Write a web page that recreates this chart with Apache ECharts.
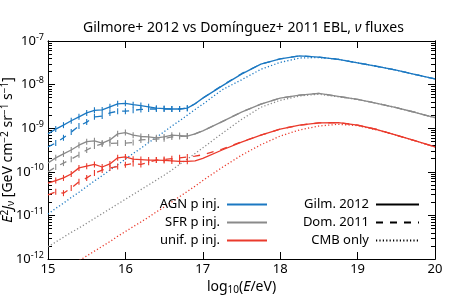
<!DOCTYPE html>
<html>
<head>
<meta charset="utf-8">
<script src="https://cdn.jsdelivr.net/npm/echarts@6/dist/echarts.min.js"></script>
<style>html,body{margin:0;padding:0;background:#fff}#c{width:450px;height:300px}</style>
</head>
<body>
<div id="c"></div>
<script>
// log10(E/eV) sample points
const logE = [15.0,15.1,15.2,15.3,15.4,15.5,15.6,15.7,15.8,15.9,16.0,16.1,16.2,16.3,16.4,16.5,16.6,16.7,16.8,16.9,17.0,
  17.25,17.5,17.75,18.0,18.25,18.5,18.75,19.0,19.25,19.5,19.75,20.0];
// log10 of E^2 J_nu [GeV cm^-2 sr^-1 s^-1]
const agnGilm = [-9.13,-9.02,-8.93,-8.83,-8.74,-8.65,-8.59,-8.58,-8.51,-8.44,-8.43,-8.46,-8.48,-8.51,-8.54,-8.55,-8.56,-8.56,-8.54,-8.44,-8.31,
  -8.03,-7.76,-7.53,-7.41,-7.34,-7.37,-7.42,-7.50,-7.58,-7.67,-7.77,-7.87];
const agnDom = [-9.43,-9.34,-9.22,-9.09,-8.95,-8.86,-8.74,-8.72,-8.65,-8.61,-8.61,-8.59,-8.57,-8.56,-8.56,-8.56,-8.56,-8.56,-8.54,-8.44,-8.31,
  -8.02,-7.75,-7.53,-7.41,-7.34,-7.37,-7.42,-7.50,-7.58,-7.67,-7.77,-7.87];
const agnCmb = [-10.97,-10.84,-10.72,-10.59,-10.47,-10.34,-10.21,-10.09,-9.96,-9.84,-9.71,-9.58,-9.46,-9.33,-9.21,-9.08,-8.95,-8.83,-8.70,-8.57,-8.45,
  -8.12,-7.89,-7.65,-7.49,-7.39,-7.38,-7.42,-7.50,-7.58,-7.67,-7.77,-7.87];
const sfrGilm = [-9.80,-9.68,-9.59,-9.50,-9.39,-9.31,-9.29,-9.34,-9.27,-9.13,-9.10,-9.16,-9.19,-9.20,-9.22,-9.20,-9.16,-9.17,-9.18,-9.13,-9.06,
  -8.85,-8.63,-8.45,-8.31,-8.24,-8.20,-8.27,-8.34,-8.43,-8.53,-8.64,-8.76];
const sfrDom = [-10.00,-9.89,-9.80,-9.71,-9.61,-9.50,-9.41,-9.36,-9.35,-9.34,-9.34,-9.33,-9.27,-9.26,-9.25,-9.24,-9.20,-9.19,-9.18,-9.13,-9.06,
  -8.85,-8.63,-8.45,-8.31,-8.24,-8.20,-8.27,-8.34,-8.43,-8.53,-8.64,-8.76];
const sfrCmb = [-11.72,-11.61,-11.50,-11.39,-11.29,-11.18,-11.07,-10.96,-10.85,-10.74,-10.63,-10.52,-10.41,-10.30,-10.19,-10.08,-9.96,-9.83,-9.71,-9.58,-9.45,
  -9.12,-8.80,-8.52,-8.36,-8.26,-8.22,-8.28,-8.34,-8.43,-8.53,-8.64,-8.76];
const unifGilm = [-10.26,-10.20,-10.14,-10.05,-9.91,-9.87,-9.83,-9.89,-9.82,-9.68,-9.66,-9.71,-9.72,-9.73,-9.73,-9.74,-9.75,-9.76,-9.76,-9.75,-9.69,
  -9.50,-9.32,-9.16,-9.02,-8.93,-8.88,-8.87,-8.93,-9.03,-9.16,-9.29,-9.43];
const unifDom = [-10.53,-10.46,-10.49,-10.37,-10.23,-10.14,-10.03,-9.96,-9.91,-9.88,-9.84,-9.81,-9.83,-9.78,-9.73,-9.72,-9.70,-9.68,-9.66,-9.64,-9.61,
  -9.48,-9.31,-9.16,-9.02,-8.93,-8.88,-8.87,-8.93,-9.03,-9.16,-9.29,-9.43];
const unifCmb = [-12.49,-12.38,-12.27,-12.15,-12.04,-11.93,-11.82,-11.71,-11.60,-11.48,-11.37,-11.26,-11.15,-11.04,-10.92,-10.81,-10.69,-10.57,-10.45,-10.33,-10.20,
  -9.90,-9.62,-9.38,-9.18,-9.04,-8.95,-8.91,-8.94,-9.04,-9.16,-9.29,-9.43];

const xTicks = [15,16,17,18,19,20];
const yDecades = [-12,-11,-10,-9,-8,-7];
const sourceNames = ['AGN p inj.','SFR p inj.','unif. p inj.'];
const eblNames = ['Gilm. 2012','Dom. 2011','CMB only'];

const FONT = 'Noto Sans';
const colors = {agn:'#1b78c2', sfr:'#8a8a8a', unif:'#ea3a2c'};
const DASH = [7,7];
const DOT = [1.2,2.2];

const majorY = yDecades.map(e => Math.pow(10, e));
const minorY = [];
yDecades.slice(0,-1).forEach(e => { for (let k = 2; k <= 9; k++) minorY.push(k * Math.pow(10, e)); });

function pts(arr){ return arr.map((v,i) => [logE[i], Math.pow(10, v)]); }

function curve(id, arr, color, type, bars){
  return {
    type:'line', name:id, data:pts(arr), xAxisIndex:0, yAxisIndex:0,
    showSymbol: !!bars, symbol:'rect',
    symbolSize: bars ? (val => (val[0] > 15.05 && val[0] < 16.85) ? [1.1,6] : 0) : 0,
    itemStyle:{color:color},
    lineStyle:{color:color, width:1.3, type: type},
    silent:true, z:2
  };
}

function dummy(name, color, type){
  return {type:'line', name:name, data:[], symbol:'none', showSymbol:false, itemStyle:{color:color, opacity:0},
          lineStyle:{color:color, width:1.4, type:type}};
}

const axisBlack = {lineStyle:{color:'#000', width:1}};
function yAxisDef(pos, custom, len, labels){
  return {
    type:'log', logBase:10, min:1e-12, max:1e-7, position:pos, gridIndex:0,
    axisLine:{show:true, lineStyle:{color:'#000', width:1}},
    axisTick:{show:true, inside:true, length:len, customValues:custom, lineStyle:{color:'#000', width:1}},
    axisLabel: labels ? {
      show:true, customValues:majorY, margin:4, color:'#000', fontFamily:FONT, fontSize:13,
      formatter: v => '10{s|' + Math.round(Math.log10(v)) + '}',
      rich:{s:{fontSize:9, fontFamily:FONT, color:'#000', padding:[0,0,8,0]}}
    } : {show:false},
    splitLine:{show:false}, minorTick:{show:false}, minorSplitLine:{show:false}
  };
}

const legendCommon = {orient:'vertical', align:'right', top:198, padding:0,
  itemHeight:14, itemGap:5, selectedMode:false,
  itemStyle:{opacity:0},
  textStyle:{fontFamily:FONT, fontSize:13, color:'#000', padding:[0,2,0,0]}};

const option = {
  animation:false,
  backgroundColor:'#fff',
  title:{
    text:'Gilmore+ 2012 vs Domínguez+ 2011 EBL, {i|ν} fluxes',
    left:83, top:21, padding:0,
    textStyle:{fontFamily:FONT, fontSize:14, fontWeight:'normal', color:'#000',
      rich:{i:{fontFamily:FONT, fontSize:14, fontStyle:'italic', color:'#000'}}}
  },
  grid:{left:48, right:15, top:41, bottom:41, containLabel:false, outerBoundsMode:'none'},
  legend:[
    Object.assign({data:sourceNames, right:182, itemWidth:40}, legendCommon),
    Object.assign({data:eblNames, right:30, itemWidth:43}, legendCommon)
  ],
  xAxis:[
    {type:'value', min:15, max:20, interval:1, position:'bottom',
     axisLine:axisBlack, axisTick:{inside:true, length:7, lineStyle:{color:'#000'}},
     axisLabel:{margin:4, color:'#000', fontFamily:FONT, fontSize:13},
     splitLine:{show:false},
     name:'log{sub|10}({i|E}/eV)', nameLocation:'middle', nameGap:20, nameMoveOverlap:false,
     nameTextStyle:{fontFamily:FONT, fontSize:14, color:'#000',
       rich:{sub:{fontFamily:FONT, fontSize:10, color:'#000', padding:[6,0,0,0]},
             i:{fontFamily:FONT, fontSize:14, fontStyle:'italic', color:'#000'}}}},
    {type:'value', min:15, max:20, interval:1, position:'top',
     axisLine:axisBlack, axisTick:{inside:true, length:7, lineStyle:{color:'#000'}},
     axisLabel:{show:false}, splitLine:{show:false}}
  ],
  yAxis:[
    Object.assign(yAxisDef('left', majorY, 7, true), {
      name:'{i|E}{sup|2}{i|J}{sub|ν} [GeV cm{sup|−2} sr{sup|−1} s{sup|−1}]',
      nameLocation:'middle', nameRotate:90, nameGap:31, nameMoveOverlap:false,
      nameTextStyle:{fontFamily:FONT, fontSize:14, color:'#000',
        rich:{
          i:{fontFamily:FONT, fontSize:14, fontStyle:'italic', color:'#000'},
          sup:{fontFamily:FONT, fontSize:10, color:'#000', padding:[0,0,7,0]},
          sub:{fontFamily:FONT, fontSize:10, color:'#000', padding:[6,0,0,0]}
        }}
    }),
    yAxisDef('left', minorY, 4, false),
    yAxisDef('right', majorY, 7, false),
    yAxisDef('right', minorY, 4, false)
  ],
  series:[
    curve('agnCmb', agnCmb, colors.agn, DOT, false),
    curve('sfrCmb', sfrCmb, colors.sfr, DOT, false),
    curve('unifCmb', unifCmb, colors.unif, DOT, false),
    curve('agnDom', agnDom, colors.agn, DASH, true),
    curve('sfrDom', sfrDom, colors.sfr, DASH, true),
    curve('unifDom', unifDom, colors.unif, DASH, true),
    curve('agnGilm', agnGilm, colors.agn, 'solid', true),
    curve('sfrGilm', sfrGilm, colors.sfr, 'solid', true),
    curve('unifGilm', unifGilm, colors.unif, 'solid', true),
    dummy(sourceNames[0], colors.agn, 'solid'),
    dummy(sourceNames[1], colors.sfr, 'solid'),
    dummy(sourceNames[2], colors.unif, 'solid'),
    dummy(eblNames[0], '#000', 'solid'),
    dummy(eblNames[1], '#000', DASH),
    dummy(eblNames[2], '#000', DOT)
  ]
};
const chart = echarts.init(document.getElementById('c'), null, {renderer:'canvas'});
chart.setOption(option);
</script>
</body>
</html>
